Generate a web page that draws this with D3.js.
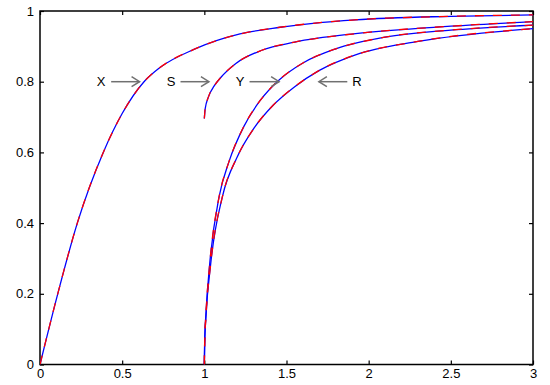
<!DOCTYPE html>
<html>
<head>
<meta charset="utf-8">
<script src="https://cdn.jsdelivr.net/npm/d3@7"></script>
<style>
  html, body { margin: 0; padding: 0; background: #fff; }
  svg { display: block; font-family: "Liberation Sans", Arial, Helvetica, sans-serif; }
</style>
</head>
<body>
<svg id="chart" width="550" height="385"></svg>
<script>
// ---- data ----
const xTicks = [0, 0.5, 1, 1.5, 2, 2.5, 3];
const yTicks = [0, 0.2, 0.4, 0.6, 0.8, 1];
const xTickLabels = ["0", "0.5", "1", "1.5", "2", "2.5", "3"];
const yTickLabels = ["0", "0.2", "0.4", "0.6", "0.8", "1"];

const seriesX = [[0,0],[0.108,0.2],[0.227,0.4],[0.385,0.6],[0.5,0.71],[0.633,0.8],[0.73,0.84],[0.94,0.892],[1.217,0.935],[1.461,0.954],[1.917,0.975],[2.5,0.985],[3,0.989]];
const seriesS = [[1,0.696],[1.005,0.723],[1.025,0.757],[1.06,0.788],[1.1,0.812],[1.19,0.851],[1.35,0.889],[1.55,0.912],[1.92,0.936],[2.5,0.957],[3,0.97]];
const seriesY = [[1,0],[1.002,0.063],[1.01,0.145],[1.033,0.286],[1.09,0.475],[1.15,0.574],[1.24,0.673],[1.34,0.747],[1.455,0.805],[1.6,0.853],[1.8,0.893],[2.1,0.926],[2.5,0.946],[3,0.96]];
const seriesR = [[1,0],[1.002,0.058],[1.01,0.136],[1.039,0.286],[1.11,0.475],[1.2,0.587],[1.3,0.667],[1.42,0.734],[1.55,0.786],[1.7,0.832],[1.92,0.876],[2.3,0.914],[3,0.95]];

// annotations
const annotLabels = ["X", "S", "Y", "R"];
const annotLabelX = [0.371, 0.797, 1.217, 1.929];
const annotArrowFrom = [0.433, 0.855, 1.275, 1.87];
const annotArrowTo = [0.606, 1.028, 1.455, 1.697];
const annotY = 0.8;

// ---- layout ----
const svg = d3.select("#chart");
const margin = { left: 40, right: 17, top: 11, bottom: 20.5 };
const W = 550, H = 385;
const x = d3.scaleLinear().domain([0, 3]).range([margin.left, W - margin.right]);
const y = d3.scaleLinear().domain([0, 1]).range([H - margin.bottom, margin.top]);

const defs = svg.append("defs");
defs.append("clipPath").attr("id", "clip")
  .append("rect")
  .attr("x", x(0)).attr("y", y(1))
  .attr("width", x(3) - x(0)).attr("height", y(0) - y(1));

// axes
const tickLen = 4;
const gB = svg.append("g").attr("transform", `translate(0,${y(0)})`)
  .call(d3.axisBottom(x).tickValues(xTicks).tickFormat((d, i) => xTickLabels[i])
    .tickSizeInner(-tickLen).tickSizeOuter(0).tickPadding(4));
const gL = svg.append("g").attr("transform", `translate(${x(0)},0)`)
  .call(d3.axisLeft(y).tickValues(yTicks).tickFormat((d, i) => yTickLabels[i])
    .tickSizeInner(-tickLen).tickSizeOuter(0).tickPadding(6));
const gT = svg.append("g").attr("transform", `translate(0,${y(1)})`)
  .call(d3.axisTop(x).tickValues(xTicks).tickFormat("")
    .tickSizeInner(-tickLen).tickSizeOuter(0));
const gR = svg.append("g").attr("transform", `translate(${x(3)},0)`)
  .call(d3.axisRight(y).tickValues(yTicks).tickFormat("")
    .tickSizeInner(-tickLen).tickSizeOuter(0));

[gB, gL, gT, gR].forEach(g => {
  g.select(".domain").remove();
  g.selectAll(".tick line").attr("stroke", "#000").attr("stroke-width", 1.2);
  g.selectAll(".tick text").attr("fill", "#000").style("font-size", "13px")
    .style("font-family", '"Liberation Sans", Arial, Helvetica, sans-serif');
});

// frame
svg.append("rect")
  .attr("x", x(0)).attr("y", y(1))
  .attr("width", x(3) - x(0)).attr("height", y(0) - y(1))
  .attr("fill", "none").attr("stroke", "#000").attr("stroke-width", 1.5);

// curves
const line = d3.line().x(d => x(d[0])).y(d => y(d[1])).curve(d3.curveMonotoneX);
const allSeries = [seriesX, seriesS, seriesY, seriesR];
const gc = svg.append("g").attr("clip-path", "url(#clip)");
allSeries.forEach(s => {
  gc.append("path").attr("d", line(s)).attr("fill", "none")
    .attr("stroke", "#0000ff").attr("stroke-width", 1.3);
  gc.append("path").attr("d", line(s)).attr("fill", "none")
    .attr("stroke", "#ff0000").attr("stroke-width", 1.3)
    .attr("stroke-dasharray", "9,9");
});

// annotations
const ga = svg.append("g");
annotLabels.forEach((lab, i) => {
  ga.append("text").attr("x", x(annotLabelX[i])).attr("y", y(annotY))
    .attr("text-anchor", "middle").attr("dy", "0.36em")
    .style("font-size", "13px").attr("fill", "#000").text(lab);
  const x0 = x(annotArrowFrom[i]), x1 = x(annotArrowTo[i]), yy = y(annotY);
  const dir = x1 > x0 ? 1 : -1;
  ga.append("line").attr("x1", x0).attr("y1", yy).attr("x2", x1).attr("y2", yy)
    .attr("stroke", "#707070").attr("stroke-width", 1.5);
  ga.append("path")
    .attr("d", `M${x1 - dir * 8},${yy - 5}L${x1},${yy}L${x1 - dir * 8},${yy + 5}`)
    .attr("fill", "none").attr("stroke", "#707070").attr("stroke-width", 1.5);
});
</script>
</body>
</html>
